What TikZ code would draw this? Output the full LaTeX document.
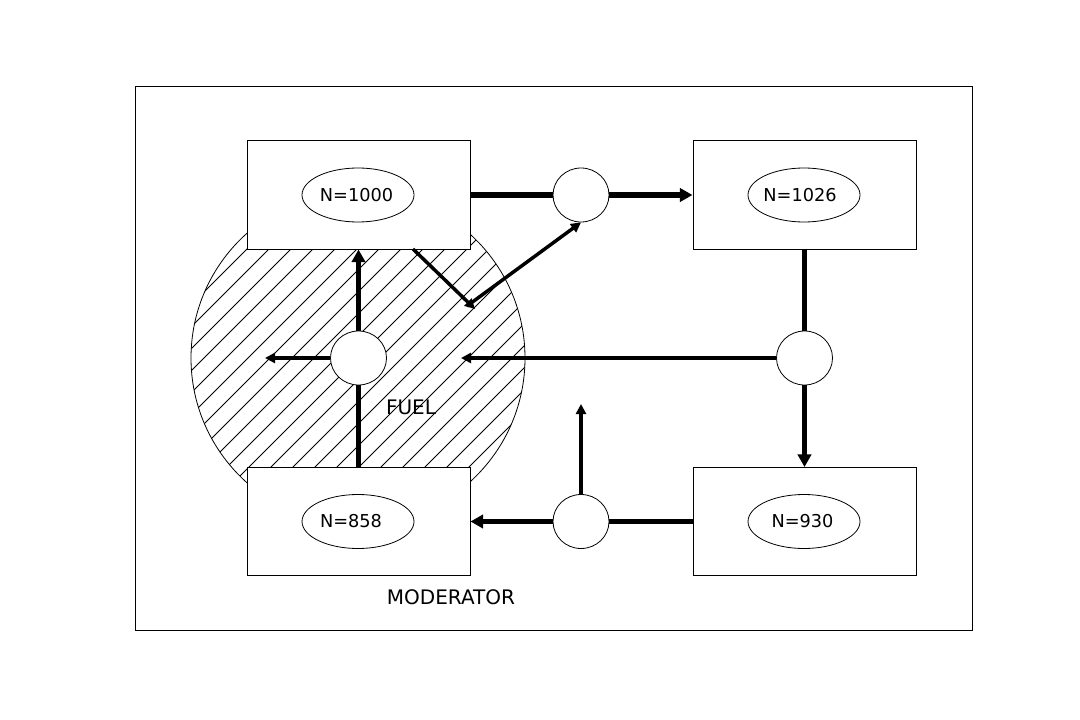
\documentclass[tikz,border=0pt]{standalone}
\usepackage{fontspec}
\setmainfont{DejaVu Sans}
\usetikzlibrary{arrows.meta,shapes.geometric}
\begin{document}
\begin{tikzpicture}[x=0.75pt,y=-0.75pt,
  every node/.style={font=\fontsize{15}{18}\selectfont},
  box/.style={draw,fill=white,line width=0.75pt,minimum width=167.25pt,minimum height=81pt,inner sep=0pt},
  count/.style={draw,ellipse,fill=white,line width=0.6pt,minimum width=84pt,minimum height=40.5pt,inner sep=0pt},
  countlabel/.style={inner sep=0pt,font=\fontsize{13.3}{16}\selectfont},
  hub/.style={draw,ellipse,fill=white,line width=0.6pt,minimum width=42pt,minimum height=40.5pt,inner sep=0pt},
  flowline/.style={line width=4.1pt},
  flowarrow/.style={line width=4.1pt,-{Triangle[length=9.5pt,width=10pt]}},
  sidearrow/.style={line width=2.6pt,-{Triangle[length=7.5pt,width=7.5pt]}}]

\useasboundingbox (0,0) rectangle (1080,720);

% outer frame
\draw[line width=0.6pt] (135,86) rectangle (972,630);

% hatched fuel region
\begin{scope}
  \clip (358,358) circle[radius=167];
  \foreach \c in {352,374,...,1100}
    \draw[line width=0.6pt] (\c-600,700) -- (\c+600,-500);
\end{scope}
\draw[line width=0.6pt] (358,358) circle[radius=167];

% stages
\node[box] (tl) at (358.5,195) {};
\node[box] (tr) at (804.5,195) {};
\node[box] (bl) at (358.5,521.5) {};
\node[box] (br) at (804.5,521.5) {};

\node[count] (etl) at (358,195) {};
\node[count] (etr) at (804,195) {};
\node[count] (ebl) at (358,521.5) {};
\node[count] (ebr) at (804,521.5) {};
\node[countlabel] (ntl) at (356.5,195) {N=1000};
\node[countlabel] (ntr) at (800,195) {N=1026};
\node[countlabel] (nbl) at (351,521.5) {N=858};
\node[countlabel] (nbr) at (802.5,521.5) {N=930};

% junctions
\node[hub] (ct) at (581,195) {};
\node[hub] (cr) at (804.5,358) {};
\node[hub] (cb) at (581,521.5) {};
\node[hub] (cl) at (358.5,358) {};

% labels
\node (fuel) at (411,407) {FUEL};
\node (mod) at (451,597) {MODERATOR};

% main cycle
\draw[flowline] (tl.east) -- (ct.west);
\draw[flowarrow] (ct.east) -- (tr.west);
\draw[flowline] (tr.south) -- (cr.north);
\draw[flowarrow] (cr.south) -- (br.north);
\draw[flowline] (br.west) -- (cb.east);
\draw[flowarrow] (cb.west) -- (bl.east);
\draw[flowline] (bl.north) -- (cl.south);
\draw[flowarrow] (cl.north) -- (tl.south);

% side branches
\coordinate (lout) at (265,358);
\coordinate (rout) at (461,358);
\coordinate (uout) at (581,404);
\coordinate (d1) at (413,249);
\coordinate (d2) at (475,309);
\coordinate (d3) at (467,306);
\draw[sidearrow] (cl.west) -- (lout);
\draw[sidearrow] (cr.west) -- (rout);
\draw[sidearrow] (cb.north) -- (uout);
\draw[sidearrow] (d1) -- (d2);
\draw[sidearrow] (d3) -- (ct.south);
\end{tikzpicture}
\end{document}
